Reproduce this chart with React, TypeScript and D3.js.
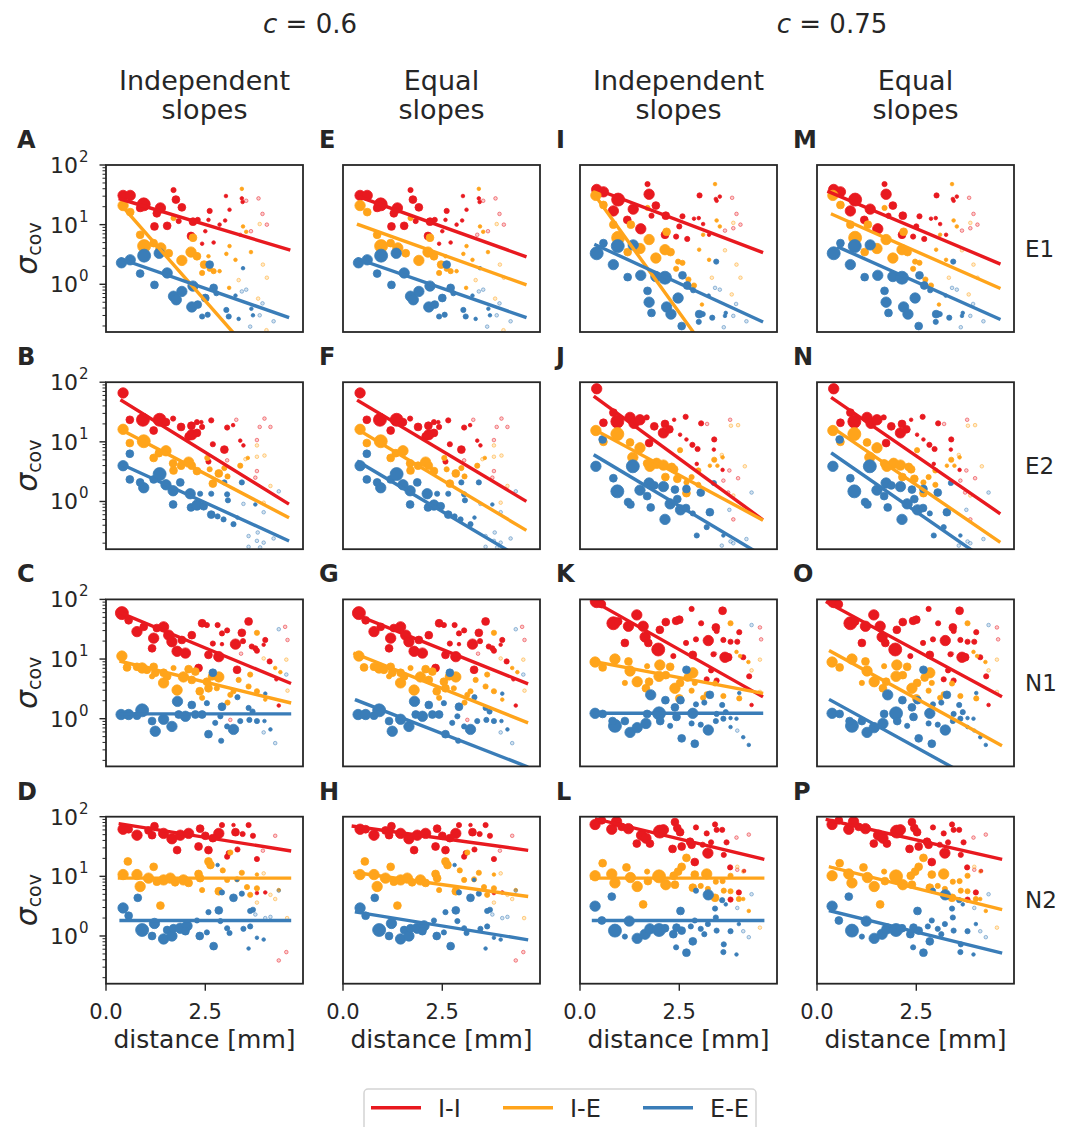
import React from 'react';
import * as d3 from 'd3';

// Each point: [distance (mm), log10 sigma_cov, weight class (0 = very few pairs ... 5 = many pairs)]
type Pt = [number, number, number];

// ---------- c = 0.6 scatter (shared by "Independent" and "Equal" columns) ----------
const E1_c06_II: Pt[] = [[0.43,1.49,4],[0.61,1.49,4],[0.95,1.34,5],[0.86,1.28,3],[1.37,1.28,4],[1.28,1.19,3],[1.70,1.58,2],[1.76,1.42,3],[1.91,1.29,3],[1.22,0.97,3],[1.54,0.98,3],[2.14,0.81,3],[2.19,1.05,3],[2.31,1.08,2],[1.83,1.06,2],[2.61,1.23,2],[2.58,1.08,1],[2.50,0.89,1],[2.42,0.68,1],[2.71,0.70,1],[2.86,1.00,1],[3.02,1.48,1],[3.11,1.25,1],[3.00,1.07,1],[3.44,1.38,1],[3.53,1.40,0],[3.42,1.44,1],[3.65,0.89,0],[3.84,1.44,0],[3.94,1.18,0],[4.05,1.00,0],[3.38,0.83,0]];
const E1_c06_IE: Pt[] = [[0.43,1.32,4],[0.61,1.21,3],[0.86,0.83,3],[0.96,0.64,5],[1.20,0.69,3],[1.38,0.61,4],[1.58,0.52,3],[1.70,1.11,2],[1.91,0.40,4],[2.14,0.54,4],[2.19,0.78,3],[2.29,0.47,3],[2.47,0.33,3],[2.61,0.26,2],[2.71,0.22,2],[2.42,0.19,2],[2.58,0.47,1],[2.86,0.22,1],[3.11,0.64,1],[3.26,0.41,1],[3.03,0.51,1],[3.10,-0.06,1],[3.42,1.60,1],[3.45,0.97,1],[3.53,0.88,1],[3.65,0.54,1],[3.34,0.07,0],[3.87,1.01,0],[3.95,0.33,0],[4.05,0.11,0],[3.83,-0.24,0],[4.04,-0.77,0]];
const E1_c06_EE: Pt[] = [[0.39,0.36,4],[0.61,0.41,4],[0.96,0.48,5],[0.86,0.18,3],[1.22,-0.01,3],[1.34,0.52,4],[1.54,0.19,4],[1.70,-0.20,4],[1.77,-0.26,4],[1.91,-0.12,4],[2.19,-0.03,4],[2.16,-0.38,4],[2.31,-0.34,3],[2.50,-0.23,3],[2.61,0.33,3],[2.71,-0.06,3],[2.78,-0.15,2],[2.42,-0.54,2],[2.56,-0.51,2],[3.03,-0.43,2],[3.09,-0.54,2],[3.34,-0.58,1],[3.26,-0.19,1],[3.45,0.27,1],[3.42,-0.12,0],[3.53,-0.09,0],[3.66,-0.41,1],[3.70,-0.52,1],[3.87,-0.52,0],[3.94,-0.32,0],[3.63,-0.71,0],[4.22,-0.62,0]];

const E2_c06_II: Pt[] = [[0.43,1.82,4],[0.60,1.37,3],[0.93,1.37,5],[1.35,1.37,5],[1.20,1.19,3],[1.51,1.33,3],[1.69,1.39,2],[1.89,1.25,3],[2.15,1.27,3],[2.29,1.33,2],[2.40,1.33,1],[2.65,1.36,2],[2.08,1.09,3],[2.16,1.12,4],[2.29,1.15,3],[2.42,1.25,2],[2.69,0.96,2],[2.98,0.87,3],[2.58,0.67,2],[3.05,1.24,2],[3.20,1.28,1],[3.28,1.37,0],[3.38,1.02,1],[3.46,0.94,1],[3.05,0.69,0],[3.87,1.25,0],[3.80,1.03,0],[3.99,1.39,0],[4.14,1.25,0],[3.80,0.51,0],[3.76,0.40,0]];
const E2_c06_IE: Pt[] = [[0.43,1.21,4],[0.60,0.98,3],[0.95,1.01,5],[1.20,0.73,3],[1.33,0.81,3],[1.51,0.85,4],[1.69,0.64,3],[1.89,0.60,3],[2.08,0.66,4],[2.16,0.60,3],[1.70,0.52,3],[2.29,0.51,3],[2.55,0.73,2],[2.61,0.54,2],[2.69,0.30,3],[2.84,0.47,3],[2.98,0.56,2],[3.06,0.42,2],[3.38,0.60,2],[3.51,0.71,0],[3.57,0.73,1],[3.80,0.94,0],[3.80,0.75,0],[3.99,0.77,0],[4.14,0.26,0],[3.97,-0.02,0]];
const E2_c06_EE: Pt[] = [[0.43,0.60,4],[0.60,0.80,3],[0.60,0.37,3],[0.95,0.23,4],[0.86,0.32,3],[1.20,0.37,3],[1.35,0.46,5],[1.51,0.28,4],[1.69,0.18,4],[1.87,0.32,3],[1.69,-0.05,3],[2.12,0.13,4],[2.14,-0.10,3],[2.37,0.13,2],[2.29,-0.06,4],[2.46,-0.08,3],[2.65,-0.22,3],[2.81,-0.25,2],[2.65,0.13,2],[2.98,0.32,2],[3.05,0.12,2],[3.07,0.02,2],[2.96,-0.30,2],[3.21,-0.38,2],[3.42,0.32,2],[3.46,-0.04,0],[3.31,-0.27,1],[3.76,-0.05,1],[3.97,-0.18,0],[3.82,-0.52,0],[3.59,-0.58,0],[3.80,-0.66,0],[3.97,-0.69,0],[3.59,-0.76,0],[3.88,-0.77,0],[4.22,-0.62,0],[4.35,0.17,0]];

const N1_c06_II: Pt[] = [[0.40,1.77,5],[0.57,1.65,3],[0.78,1.46,4],[0.95,1.54,3],[1.20,1.35,4],[1.16,1.18,3],[1.28,1.52,3],[1.45,1.54,4],[1.58,1.40,4],[1.66,1.29,4],[1.79,1.13,4],[2.00,1.10,4],[1.91,1.32,3],[2.16,1.40,3],[2.33,0.85,3],[2.42,1.60,3],[2.54,1.57,2],[2.58,1.07,3],[2.84,1.04,4],[2.81,1.57,2],[2.69,1.26,2],[2.92,1.43,2],[3.05,1.48,2],[2.92,1.25,1],[3.26,1.25,4],[3.42,1.44,3],[3.45,1.30,2],[3.59,1.63,3],[3.67,1.21,2],[3.76,1.18,2],[3.30,0.82,3],[3.80,1.14,2],[4.01,1.32,2],[4.12,0.96,2],[3.97,1.24,1],[3.40,1.09,0],[3.13,-0.02,0],[4.51,1.54,0],[4.57,1.32,0],[4.35,0.22,1],[4.29,0.66,1]];
const N1_c06_IE: Pt[] = [[0.40,1.05,4],[0.53,0.86,3],[0.78,0.87,3],[0.91,0.85,4],[1.03,0.82,3],[1.20,0.87,3],[1.24,0.77,3],[1.16,0.71,2],[1.45,0.60,4],[1.45,0.77,3],[1.70,0.85,2],[1.54,0.71,3],[1.79,0.48,4],[1.95,0.70,4],[2.08,0.83,3],[2.16,0.65,3],[2.25,0.79,3],[2.36,0.46,3],[2.42,0.35,2],[2.54,0.62,3],[2.67,0.71,3],[2.84,0.70,4],[2.79,0.51,2],[2.58,0.51,3],[3.06,0.27,2],[3.21,0.46,2],[3.13,0.40,2],[3.34,0.65,2],[3.59,0.54,2],[3.63,0.74,2],[3.80,1.44,2],[3.80,0.46,2],[3.97,1.01,0],[4.01,0.32,1],[4.26,0.85,1],[4.39,0.78,1],[4.54,0.99,0],[4.57,0.47,0]];
const N1_c06_EE: Pt[] = [[0.38,0.07,4],[0.57,0.07,4],[0.91,0.14,5],[0.78,0.05,3],[1.16,-0.04,3],[1.24,-0.21,4],[1.45,-0.01,4],[1.66,-0.13,4],[1.80,0.29,4],[1.83,0.07,3],[2.00,0.04,4],[2.16,0.23,3],[2.25,0.07,3],[2.42,0.07,3],[2.54,0.26,2],[2.58,-0.26,3],[2.69,0.77,3],[2.75,-0.07,2],[2.88,0.04,2],[2.90,-0.37,2],[2.92,0.20,3],[3.05,-0.13,2],[3.21,-0.18,4],[3.31,0.36,2],[3.38,-0.04,2],[3.59,0.18,2],[3.61,-0.02,2],[3.69,0.12,2],[3.80,-0.04,2],[3.97,-0.23,0],[3.99,-0.04,1],[4.14,-0.18,1],[4.01,0.42,1],[4.26,-0.41,0],[4.35,1.50,0],[4.54,0.74,0]];

const N2_c06_II: Pt[] = [[0.43,1.79,4],[0.57,1.79,3],[0.78,1.69,4],[1.07,1.77,3],[1.22,1.84,3],[1.16,1.69,3],[1.45,1.72,4],[1.66,1.63,4],[1.79,1.44,3],[1.87,1.69,4],[2.08,1.72,4],[2.37,1.80,3],[2.33,1.50,3],[2.58,1.44,3],[2.50,1.68,3],[2.84,1.72,4],[2.92,1.86,2],[2.69,1.64,3],[3.09,1.39,2],[3.05,1.33,2],[3.21,1.86,1],[3.26,1.74,3],[3.31,1.45,2],[3.44,1.71,2],[3.59,1.86,2],[3.70,1.68,2],[3.80,1.29,2],[3.95,1.43,0],[3.80,0.72,1],[4.26,1.68,0],[4.35,-0.41,0],[4.54,-0.27,0],[4.01,0.73,1]];
const N2_c06_IE: Pt[] = [[0.43,1.03,4],[0.55,1.25,3],[0.78,1.03,4],[0.86,0.83,4],[1.07,0.97,4],[1.20,1.16,3],[1.28,0.91,3],[1.45,0.94,4],[1.62,0.97,4],[1.74,0.90,3],[1.95,0.94,4],[2.08,0.89,3],[2.33,1.04,3],[2.37,0.97,3],[2.42,0.77,2],[1.37,0.51,3],[2.58,1.25,3],[2.63,1.19,3],[2.84,0.75,3],[2.94,1.10,2],[3.13,1.40,2],[3.05,0.94,2],[3.30,0.95,2],[3.42,1.06,2],[3.55,0.82,2],[3.63,0.69,2],[3.80,0.80,2],[3.80,1.03,1],[3.97,1.05,0],[3.80,0.56,0],[4.14,0.69,0],[4.26,0.62,0],[4.35,0.77,1],[4.56,0.30,0]];
const N2_c06_EE: Pt[] = [[0.43,0.47,4],[0.57,0.34,3],[0.80,0.64,3],[0.91,0.10,5],[1.16,0.00,3],[1.22,0.21,4],[1.45,-0.05,4],[1.54,0.10,3],[1.66,0.00,4],[1.70,0.13,3],[1.87,0.13,4],[2.04,0.17,4],[2.00,0.08,3],[2.29,0.26,2],[2.36,0.00,3],[2.54,0.06,2],[2.58,0.40,2],[2.71,-0.17,3],[2.84,0.43,3],[2.88,0.25,2],[3.05,0.13,2],[3.11,0.05,2],[2.92,0.73,2],[3.21,0.64,3],[2.81,1.19,1],[3.30,0.94,1],[3.46,0.12,2],[3.42,0.71,2],[3.63,0.16,2],[3.63,0.42,2],[3.70,0.44,2],[3.59,-0.21,1],[3.80,-0.03,1],[3.97,-0.06,1],[3.76,0.36,0],[4.01,0.30,0],[4.14,0.32,0],[4.35,0.76,0]];

// ---------- c = 0.75 scatter ----------
const E1_c075_II: Pt[] = [[0.42,1.59,4],[0.59,1.55,4],[0.96,1.42,5],[0.84,1.23,4],[1.34,1.26,4],[1.70,1.68,2],[1.74,1.51,4],[1.91,1.32,3],[1.19,1.08,3],[1.53,0.93,4],[1.80,1.15,2],[2.16,1.15,3],[2.14,0.83,3],[2.42,0.80,2],[2.58,1.14,2],[2.50,0.97,2],[2.70,0.76,2],[2.87,1.10,1],[2.99,1.11,1],[3.10,1.01,1],[3.01,1.49,2],[3.42,1.43,1],[3.52,1.47,1],[3.44,1.40,1],[3.65,0.90,0],[3.83,1.45,0],[3.94,1.18,0],[4.04,1.00,0],[3.86,0.94,0],[3.25,0.83,1]];
const E1_c075_IE: Pt[] = [[0.40,1.49,4],[0.59,1.33,3],[0.84,1.00,3],[0.96,0.78,5],[1.28,1.00,3],[1.20,0.54,3],[1.51,0.60,4],[1.74,0.75,4],[1.91,0.44,4],[2.14,0.58,4],[2.28,0.54,3],[2.18,0.88,3],[1.70,1.28,2],[2.47,0.38,2],[2.58,0.36,2],[2.42,0.26,2],[2.73,0.08,2],[2.87,-0.02,2],[3.07,-0.34,1],[3.10,0.83,1],[3.25,0.41,1],[3.40,1.68,1],[3.44,1.07,1],[3.52,0.97,1],[3.00,0.58,1],[3.65,0.57,0],[3.32,0.11,0],[3.86,1.03,0],[3.94,0.33,0],[4.04,0.11,0],[3.82,-0.17,0]];
const E1_c075_EE: Pt[] = [[0.42,0.52,5],[0.59,0.69,3],[0.95,0.64,5],[1.34,0.66,4],[0.84,0.33,4],[1.20,0.12,3],[1.53,0.15,4],[1.91,0.13,4],[2.14,0.11,5],[1.70,-0.11,3],[1.74,-0.30,4],[1.80,-0.48,3],[2.18,-0.38,4],[2.29,-0.50,4],[2.47,-0.23,4],[2.58,0.15,3],[2.70,-0.02,3],[2.56,-0.70,3],[2.85,-0.10,2],[3.00,-0.50,3],[3.09,-0.50,2],[2.99,-0.63,2],[3.33,-0.56,2],[3.43,0.38,2],[3.24,-0.19,1],[3.40,-0.06,0],[3.52,-0.09,0],[3.67,-0.48,1],[3.65,-0.53,1],[3.93,-0.33,0],[3.86,-0.53,0],[3.62,-0.72,0],[4.19,-0.62,0]];

const E2_c075_II: Pt[] = [[0.42,1.89,4],[0.84,1.49,3],[0.59,1.32,3],[0.94,1.34,5],[1.26,1.41,4],[1.36,1.31,4],[1.51,1.37,4],[1.68,1.41,2],[1.87,1.26,3],[2.14,1.30,3],[2.10,1.15,4],[2.25,1.21,3],[1.74,0.98,3],[2.37,1.37,1],[2.66,1.42,2],[2.52,1.12,1],[2.68,1.04,1],[2.83,0.95,2],[2.96,0.88,2],[3.05,1.31,2],[3.20,1.30,0],[3.38,1.04,2],[3.37,0.87,1],[3.59,0.53,1],[2.94,0.63,1],[3.76,0.52,0],[3.61,0.35,0],[3.98,0.39,0],[3.86,-0.30,0],[3.73,0.15,0],[3.78,1.37,0]];
const E2_c075_IE: Pt[] = [[0.40,1.19,4],[0.59,1.00,3],[0.94,1.13,5],[1.26,0.99,3],[1.51,0.90,4],[1.33,0.74,4],[1.34,0.60,3],[1.76,0.59,4],[1.69,0.64,3],[1.93,0.64,4],[2.10,0.61,4],[2.31,0.58,3],[2.37,0.54,3],[2.15,0.41,3],[2.45,0.38,3],[2.52,0.86,2],[2.68,0.32,2],[2.81,0.41,2],[2.68,0.14,3],[2.98,0.28,2],[2.98,0.52,2],[3.27,0.60,1],[3.38,0.70,2],[3.46,0.60,1],[3.57,0.78,0],[3.59,0.74,1],[3.80,1.27,0],[3.98,1.28,0],[3.86,0.10,0],[4.15,0.59,0]];
const E2_c075_EE: Pt[] = [[0.40,0.59,4],[0.57,1.04,3],[0.84,0.39,3],[0.94,0.17,5],[1.33,0.59,5],[1.21,-0.01,3],[1.27,-0.05,3],[1.51,0.19,4],[1.69,0.09,3],[1.74,0.31,4],[1.87,0.27,3],[2.10,0.25,4],[1.78,-0.10,3],[2.14,-0.30,4],[2.27,-0.04,4],[2.39,0.20,3],[2.45,0.04,3],[2.53,-0.14,4],[2.68,0.21,3],[2.67,-0.11,3],[2.84,-0.20,2],[3.04,0.15,3],[2.94,-0.57,2],[3.19,-0.43,2],[3.27,-0.18,3],[3.37,0.31,2],[3.61,-0.57,1],[3.57,-0.74,0],[3.76,-0.14,0],[3.79,-0.67,0],[3.86,-0.70,0],[4.19,-0.63,0],[4.32,0.15,0]];

const N1_c075_II: Pt[] = [[0.42,1.97,5],[0.55,1.92,3],[0.84,1.60,5],[0.96,1.63,3],[1.22,1.55,4],[1.43,1.74,4],[1.59,1.55,4],[1.64,1.37,4],[1.72,1.27,3],[1.13,1.27,3],[1.97,1.16,5],[2.01,1.49,3],[2.16,1.62,3],[2.42,1.64,3],[2.50,1.66,3],[2.35,1.05,2],[2.67,1.27,2],[2.81,1.84,2],[2.84,1.07,3],[2.92,1.33,2],[3.05,1.60,2],[3.23,1.31,4],[3.36,1.08,2],[3.42,1.53,3],[3.44,1.47,2],[3.59,1.81,3],[3.61,1.32,2],[3.65,1.03,4],[3.73,1.03,3],[3.79,1.29,2],[3.96,1.29,2],[4.01,1.45,2],[3.30,0.81,2],[3.19,0.66,2],[3.44,0.64,2],[4.11,1.03,2],[4.26,0.71,2],[4.32,0.23,1],[4.53,1.53,0],[4.56,1.33,0],[3.40,1.09,0],[2.27,0.87,2]];
const N1_c075_IE: Pt[] = [[0.38,0.95,4],[0.57,0.86,3],[0.88,1.00,4],[1.22,0.96,3],[1.26,0.80,4],[1.44,0.62,4],[1.13,0.60,2],[1.69,0.88,2],[1.74,0.62,3],[1.66,0.51,3],[2.01,0.90,4],[1.99,0.71,4],[2.16,0.73,3],[2.27,0.87,3],[2.39,0.51,4],[2.52,0.60,3],[2.50,0.34,3],[2.84,0.77,4],[2.71,0.69,3],[2.89,0.60,2],[2.81,0.47,2],[3.10,0.35,2],[3.19,0.41,2],[3.40,0.59,2],[3.61,0.38,2],[3.79,1.60,2],[3.94,1.12,1],[4.03,1.05,1],[4.24,0.95,1],[4.32,0.81,0],[4.01,0.34,2],[4.53,0.99,0],[4.53,0.45,0]];
const N1_c075_EE: Pt[] = [[0.38,0.09,4],[0.57,0.08,3],[0.88,-0.12,5],[0.82,-0.04,3],[1.13,-0.04,3],[1.26,-0.23,4],[1.44,-0.15,4],[1.66,-0.08,4],[1.78,0.40,4],[1.69,0.08,3],[1.99,0.09,5],[2.02,-0.04,3],[2.15,0.31,3],[2.27,-0.12,2],[2.39,0.19,3],[2.43,0.03,3],[2.53,0.31,3],[2.56,-0.33,3],[2.68,0.82,3],[2.81,-0.08,2],[2.84,0.09,4],[2.89,-0.42,3],[2.92,0.24,2],[3.04,-0.10,2],[3.13,0.27,2],[3.23,-0.19,4],[3.27,0.40,3],[3.42,-0.04,2],[3.44,0.08,2],[3.58,0.23,2],[3.61,0.00,2],[3.67,0.11,2],[3.79,0.01,1],[3.79,-0.14,1],[3.94,0.00,1],[3.96,-0.20,0],[4.11,-0.31,1],[4.25,-0.44,1],[4.32,1.57,0],[4.01,0.43,1]];

const N2_c075_II: Pt[] = [[0.38,1.87,4],[0.55,1.94,3],[0.80,1.79,4],[0.92,1.92,4],[1.05,1.83,3],[1.22,1.80,4],[1.43,1.55,3],[1.55,1.69,4],[1.66,1.64,4],[1.76,1.55,3],[2.01,1.75,5],[2.10,1.78,4],[2.39,1.91,3],[2.45,1.81,3],[2.52,1.74,3],[2.33,1.46,3],[2.56,1.50,3],[2.77,1.58,3],[2.81,1.53,3],[2.92,1.82,2],[2.89,1.24,3],[3.09,1.53,2],[3.22,1.39,4],[3.19,1.72,2],[3.30,1.57,2],[3.40,1.87,2],[3.44,1.78,2],[3.58,1.78,2],[3.69,1.57,2],[3.62,1.36,2],[3.94,1.65,0],[3.78,1.15,2],[3.96,1.11,0],[4.00,0.73,2],[3.79,0.61,2],[4.25,1.70,0],[4.13,1.09,1]];
const N2_c075_IE: Pt[] = [[0.38,1.01,4],[0.57,1.22,3],[0.80,1.04,4],[0.88,0.89,4],[1.17,1.15,3],[1.27,0.98,4],[1.44,0.83,4],[1.69,1.08,2],[1.71,0.92,3],[1.99,1.00,5],[2.16,0.86,4],[2.36,1.01,3],[2.47,1.08,3],[2.56,1.16,3],[2.39,0.86,3],[1.59,0.53,3],[2.68,1.31,3],[2.84,0.81,3],[2.89,1.03,3],[3.04,0.84,2],[3.19,1.04,4],[3.22,0.79,2],[3.40,0.64,3],[3.42,0.91,2],[3.59,0.92,2],[3.62,0.76,2],[3.79,1.01,2],[3.79,0.75,2],[3.96,1.16,0],[4.11,1.08,0],[4.00,0.62,2],[4.11,0.62,1],[4.25,0.42,1],[4.53,0.14,0]];
const N2_c075_EE: Pt[] = [[0.38,0.50,4],[0.55,0.26,3],[0.80,0.66,3],[0.88,0.09,5],[1.13,-0.01,2],[1.24,0.25,4],[1.44,-0.04,4],[1.64,0.03,4],[1.76,0.12,4],[1.99,0.10,5],[2.14,0.13,3],[2.35,0.03,3],[2.42,-0.19,2],[2.43,0.14,3],[2.53,0.42,3],[2.56,0.09,3],[2.68,-0.28,3],[2.79,0.16,2],[2.84,-0.09,3],[2.89,0.26,2],[2.92,0.76,2],[3.04,0.12,2],[3.13,0.03,2],[3.22,0.20,2],[3.23,0.69,4],[3.40,0.46,2],[3.42,0.31,2],[3.44,0.09,2],[3.58,0.60,2],[3.62,-0.14,2],[3.61,-0.27,2],[3.67,0.53,1],[3.79,0.08,2],[3.94,-0.31,1],[3.96,0.47,0],[4.00,0.20,1],[4.11,0.08,0],[4.25,-0.02,0],[4.32,0.70,0]];

// ---------- fitted lines: [d0, log10 sigma at d0, d1, log10 sigma at d1] for I-I, I-E, E-E ----------
type Fit = [number, number, number, number];
const fitA: Fit[] = [[0.36,1.43,4.6,0.58],[0.38,1.33,4.6,-1.87],[0.40,0.42,4.57,-0.55]];
const fitB: Fit[] = [[0.40,1.69,4.57,-0.03],[0.42,1.19,4.57,-0.26],[0.40,0.62,4.57,-0.65]];
const fitC: Fit[] = [[0.38,1.77,4.62,0.60],[0.38,0.96,4.62,0.27],[0.38,0.08,4.62,0.08]];
const fitD: Fit[] = [[0.36,1.88,4.62,1.43],[0.34,0.97,4.62,0.97],[0.38,0.26,4.62,0.26]];
const fitE: Fit[] = [[0.43,1.46,4.58,0.47],[0.39,1.00,4.58,0.00],[0.40,0.42,4.58,-0.55]];
const fitF: Fit[] = [[0.39,1.685,4.58,0.017],[0.39,1.20,4.58,-0.47],[0.39,0.665,4.58,-0.99]];
const fitG: Fit[] = [[0.30,1.75,4.62,0.595],[0.30,1.09,4.62,-0.06],[0.34,0.31,4.62,-0.80]];
const fitH: Fit[] = [[0.26,1.84,4.62,1.44],[0.30,1.065,4.62,0.666],[0.34,0.40,4.62,-0.06]];
const fitI: Fit[] = [[0.35,1.61,4.57,0.54],[0.38,1.49,4.6,-2.42],[0.40,0.66,4.57,-0.62]];
const fitJ: Fit[] = [[0.38,1.75,4.57,-0.29],[0.38,1.20,4.57,-0.30],[0.38,0.77,4.6,-0.91]];
const fitK: Fit[] = [[0.34,1.97,4.57,0.38],[0.34,0.96,4.57,0.43],[0.38,0.09,4.57,0.09]];
const fitL: Fit[] = [[0.42,1.96,4.60,1.29],[0.30,0.97,4.60,0.97],[0.34,0.26,4.60,0.26]];
const fitM: Fit[] = [[0.30,1.55,4.58,0.35],[0.39,1.17,4.58,-0.06],[0.55,0.62,4.58,-0.58]];
const fitN: Fit[] = [[0.39,1.73,4.58,-0.19],[0.39,1.24,4.58,-0.67],[0.39,0.80,4.6,-1.14]];
const fitO: Fit[] = [[0.26,1.95,4.62,0.38],[0.34,1.13,4.62,-0.44],[0.34,0.31,4.62,-1.26]];
const fitP: Fit[] = [[0.26,1.95,4.62,1.29],[0.34,1.155,4.62,0.45],[0.34,0.42,4.62,-0.28]];

const rowLabels = ['E1', 'E2', 'N1', 'N2'];
const colTitles = [['Independent', 'slopes'], ['Equal', 'slopes'], ['Independent', 'slopes'], ['Equal', 'slopes']];
const panelLetters = [['A', 'B', 'C', 'D'], ['E', 'F', 'G', 'H'], ['I', 'J', 'K', 'L'], ['M', 'N', 'O', 'P']];
const seriesNames = ['I-I', 'I-E', 'E-E'];
const seriesColors = ['#e8191f', '#ffa41b', '#3a7db8'];
const cValues = ['0.6', '0.75'];
const xTicks = [0, 2.5];
const yMajor = [1, 10, 100];

const scatterC06 = [
  [E1_c06_II, E1_c06_IE, E1_c06_EE],
  [E2_c06_II, E2_c06_IE, E2_c06_EE],
  [N1_c06_II, N1_c06_IE, N1_c06_EE],
  [N2_c06_II, N2_c06_IE, N2_c06_EE],
];
const scatterC075 = [
  [E1_c075_II, E1_c075_IE, E1_c075_EE],
  [E2_c075_II, E2_c075_IE, E2_c075_EE],
  [N1_c075_II, N1_c075_IE, N1_c075_EE],
  [N2_c075_II, N2_c075_IE, N2_c075_EE],
];
const fits = [
  [fitA, fitB, fitC, fitD],
  [fitE, fitF, fitG, fitH],
  [fitI, fitJ, fitK, fitL],
  [fitM, fitN, fitO, fitP],
];

// ---------- layout ----------
const W = 1072, H = 1127;
const PW = 197, PH = 167;
const colX = [106, 343, 580, 817];
const rowY = [165, 382.2, 599.4, 816.7];
const TXT = '#262626';
const FONT = '"DejaVu Sans", Verdana, sans-serif';

const x = d3.scaleLinear().domain([0, 4.96]).range([0, PW]);
const y = d3.scaleLog().domain([Math.pow(10, -0.8), 100]).range([PH, 0]);
const rScale = d3.scaleLinear().domain([0, 1, 2, 3, 4, 5]).range([1.8, 1.8, 2.6, 3.9, 5.2, 6.5]);
const yMinor: number[] = [];
[-1, 0, 1].forEach(e => { for (let k = 2; k <= 9; k++) { const v = k * Math.pow(10, e); if (v >= Math.pow(10, -0.8)) yMinor.push(v); } });

const line = d3.line<[number, number]>().x(d => x(d[0])).y(d => y(Math.pow(10, d[1])));

function Panel({ col, row }: { col: number; row: number }) {
  const pts = col < 2 ? scatterC06[row] : scatterC075[row];
  const f = fits[col][row];
  const clipId = `clip-${col}-${row}`;
  return (
    <g transform={`translate(${colX[col]},${rowY[row]})`}>
      <defs>
        <clipPath id={clipId}><rect x={0} y={0} width={PW} height={PH} /></clipPath>
      </defs>
      <g clipPath={`url(#${clipId})`}>
        {pts.map((series, si) => series.map((p, i) => {
          const faint = p[2] === 0;
          return (
            <circle key={`${si}-${i}`} cx={x(p[0])} cy={y(Math.pow(10, p[1]))} r={rScale(p[2])}
              fill={seriesColors[si]} fillOpacity={faint ? 0.22 : 1}
              stroke={seriesColors[si]} strokeOpacity={faint ? 0.55 : 1} strokeWidth={faint ? 0.9 : 0.8} />
          );
        }))}
        {f.map((fit, si) => (
          <path key={si} d={line([[fit[0], fit[1]], [fit[2], fit[3]]]) || ''} stroke={seriesColors[si]}
            strokeWidth={3.4} fill="none" strokeLinecap="square" />
        ))}
      </g>
      <rect x={0} y={0} width={PW} height={PH} fill="none" stroke={TXT} strokeWidth={1.8} />
      {col === 0 && (
        <g>
          {yMinor.map(v => <line key={`mn${v}`} x1={0} x2={-3.5} y1={y(v)} y2={y(v)} stroke={TXT} strokeWidth={1} />)}
          {yMajor.map((v, i) => (
            <g key={`mj${v}`}>
              <line x1={0} x2={-6.5} y1={y(v)} y2={y(v)} stroke={TXT} strokeWidth={1.4} />
              <text x={-28} y={y(v) + 8} textAnchor="end" fontSize={22} fill={TXT} fontFamily={FONT}>10</text>
              <text x={-27} y={y(v) - 3} textAnchor="start" fontSize={15} fill={TXT} fontFamily={FONT}>{i}</text>
            </g>
          ))}
          <text transform={`translate(-69,${PH / 2}) rotate(-90)`} textAnchor="middle" fill={TXT} fontFamily={FONT}>
            <tspan fontSize={30} fontStyle="italic">σ</tspan>
            <tspan fontSize={19} dy={4}>cov</tspan>
          </text>
        </g>
      )}
      {row === 3 && (
        <g>
          {xTicks.map(t => (
            <g key={t}>
              <line x1={x(t)} x2={x(t)} y1={PH} y2={PH + 7} stroke={TXT} strokeWidth={1.4} />
              <text x={x(t)} y={PH + 35} textAnchor="middle" fontSize={21} fill={TXT} fontFamily={FONT}>{t.toFixed(1)}</text>
            </g>
          ))}
          <text x={PW / 2} y={PH + 64} textAnchor="middle" fontSize={25} fill={TXT} fontFamily={FONT}>distance [mm]</text>
        </g>
      )}
      <text x={col === 0 ? -89 : -24} y={-17} fontSize={24} fontWeight="bold" fill={TXT} fontFamily={FONT}>{panelLetters[col][row]}</text>
      {col === 3 && (
        <text x={PW + 11} y={PH / 2 + 8} fontSize={23} fill={TXT} fontFamily={FONT}>{rowLabels[row]}</text>
      )}
    </g>
  );
}

export default function App() {
  const legendX = 364, legendY = 1089;
  const legendItems = [0, 1, 2];
  const legendOffsets = [0, 132, 272];
  return (
    <svg width={W} height={H} viewBox={`0 0 ${W} ${H}`} style={{ position: 'absolute', left: 0, top: 0, background: '#fff' }}>
      <rect x={0} y={0} width={W} height={H} fill="#fff" />
      {cValues.map((c, i) => (
        <text key={c} x={i === 0 ? 310 : 832} y={33} textAnchor="middle" fontSize={26} fill={TXT} fontFamily={FONT}>
          <tspan fontStyle="italic">c</tspan> = {c}
        </text>
      ))}
      {colTitles.map((t, i) => (
        <g key={i}>
          <text x={colX[i] + PW / 2} y={90} textAnchor="middle" fontSize={27} fill={TXT} fontFamily={FONT}>{t[0]}</text>
          <text x={colX[i] + PW / 2} y={119} textAnchor="middle" fontSize={27} fill={TXT} fontFamily={FONT}>{t[1]}</text>
        </g>
      ))}
      {[0, 1, 2, 3].map(col => [0, 1, 2, 3].map(row => <Panel key={`${col}-${row}`} col={col} row={row} />))}
      <g>
        <rect x={legendX} y={legendY} width={392} height={60} rx={4} fill="#fff" stroke="#d4d4d4" strokeWidth={1.5} />
        {legendItems.map(i => (
          <g key={i} transform={`translate(${legendX + legendOffsets[i]},0)`}>
            <line x1={7} x2={57} y1={1107.7} y2={1107.7} stroke={seriesColors[i]} strokeWidth={3.4} />
            <text x={74} y={1116.5} fontSize={24} fill={TXT} fontFamily={FONT}>{seriesNames[i]}</text>
          </g>
        ))}
      </g>
    </svg>
  );
}
